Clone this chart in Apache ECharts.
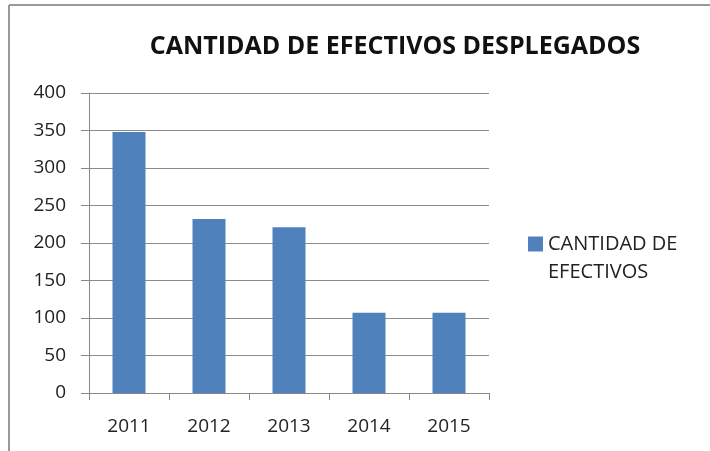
<!DOCTYPE html>
<html>
<head>
<meta charset="utf-8">
<script src="https://cdn.jsdelivr.net/npm/echarts@6/dist/echarts.min.js"></script>
<style>
  html, body { margin: 0; padding: 0; background: #fff; }
  #main { width: 710px; height: 451px; }
</style>
</head>
<body>
<div id="main"></div>
<script>
const years = ['2011', '2012', '2013', '2014', '2015'];
const efectivos = [348, 232, 221, 107, 107];
const seriesName = 'CANTIDAD DE\nEFECTIVOS';
const titleText = 'CANTIDAD DE EFECTIVOS DESPLEGADOS';

const myChart = echarts.init(document.getElementById('main'));
const font = '"Open Sans", "Liberation Sans", sans-serif';

const option = {
  backgroundColor: '#fff',
  animation: false,
  title: {
    text: titleText,
    left: 390,
    textAlign: 'center',
    top: 29,
    textStyle: { fontFamily: font, fontSize: 25, fontWeight: 'bold', color: '#111' }
  },
  legend: {
    left: 528,
    top: 202,
    orient: 'vertical',
    icon: 'rect',
    itemWidth: 15,
    itemHeight: 15,
    itemGap: 6,
    padding: 0,
    // blank first line keeps the first text line level with the marker
    formatter: function (name) { return ' \n' + name; },
    textStyle: { fontFamily: font, fontSize: 20, color: '#222', lineHeight: 28 },
    data: [seriesName]
  },
  grid: { left: 89, right: 221, top: 93, bottom: 58 },
  xAxis: {
    type: 'category',
    data: years,
    axisLine: { lineStyle: { color: '#888', width: 1 } },
    axisTick: { show: true, length: 7, lineStyle: { color: '#888' } },
    axisLabel: { fontFamily: font, fontSize: 19, color: '#222', margin: 24 }
  },
  yAxis: {
    type: 'value',
    min: 0,
    max: 400,
    interval: 50,
    axisLine: { show: true, lineStyle: { color: '#888', width: 1 } },
    axisTick: { show: true, length: 8, lineStyle: { color: '#888' } },
    axisLabel: { fontFamily: font, fontSize: 19, color: '#222', margin: 23 },
    splitLine: { lineStyle: { color: '#8c8c8c', width: 1 } }
  },
  series: [{
    name: seriesName,
    type: 'bar',
    data: efectivos,
    barWidth: 33,
    itemStyle: { color: '#4f81bd' }
  }],
  graphic: [
    { type: 'line', shape: { x1: 9, y1: 5, x2: 710, y2: 5 }, style: { stroke: '#999', lineWidth: 2 } },
    { type: 'line', shape: { x1: 9, y1: 5, x2: 9, y2: 451 }, style: { stroke: '#999', lineWidth: 2 } }
  ]
};

myChart.setOption(option);
</script>
</body>
</html>
